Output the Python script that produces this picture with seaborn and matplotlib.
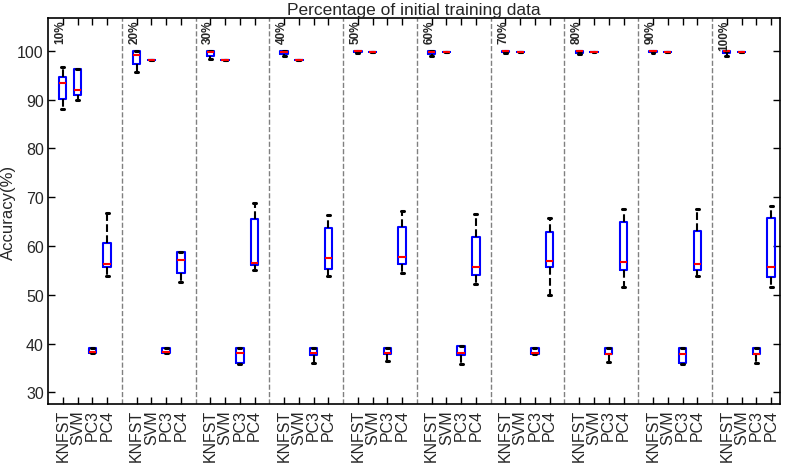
import pandas as pd
import matplotlib
matplotlib.use("Agg")
import matplotlib.pyplot as plt
import seaborn as sns

# five-number summaries: [min, q1, median, q3, max]
groups = ["10%", "20%", "30%", "40%", "50%", "60%", "70%", "80%", "90%", "100%"]
methods = ["KNFST", "SVM", "PC3", "PC4"]

knfst = [
    [88.0, 90.1, 93.3, 94.7, 96.6],
    [95.7, 97.3, 99.2, 99.9, 100.0],
    [98.3, 98.85, 99.8, 100.0, 100.0],
    [98.9, 99.4, 99.7, 100.0, 100.0],
    [99.6, 99.8, 99.9, 100.0, 100.0],
    [99.0, 99.3, 99.7, 100.0, 100.0],
    [99.5, 99.7, 99.9, 100.0, 100.0],
    [99.4, 99.6, 99.9, 100.0, 100.0],
    [99.6, 99.7, 99.9, 100.0, 100.0],
    [99.0, 99.5, 99.9, 100.0, 100.0],
]
svm = [
    [89.9, 90.9, 92.0, 96.25, 96.25],
    [98.0, 98.0, 98.0, 98.0, 98.0],
    [98.0, 98.0, 98.0, 98.0, 98.0],
    [98.0, 98.0, 98.0, 98.0, 98.0],
    [99.8, 99.8, 99.8, 99.8, 99.8],
    [99.8, 99.8, 99.8, 99.8, 99.8],
    [99.8, 99.8, 99.8, 99.8, 99.8],
    [99.8, 99.8, 99.8, 99.8, 99.8],
    [99.8, 99.8, 99.8, 99.8, 99.8],
    [99.8, 99.8, 99.8, 99.8, 99.8],
]
pc3 = [
    [38.0, 38.0, 38.2, 39.1, 39.1],
    [38.0, 38.0, 38.2, 39.1, 39.1],
    [35.8, 36.0, 38.05, 39.05, 39.05],
    [36.1, 37.7, 38.05, 39.05, 39.05],
    [36.5, 37.8, 38.05, 39.05, 39.05],
    [35.75, 37.7, 38.05, 39.4, 39.4],
    [37.8, 37.8, 38.05, 39.05, 39.05],
    [36.3, 37.8, 37.95, 39.05, 39.05],
    [35.75, 36.0, 37.8, 39.05, 39.05],
    [36.1, 37.8, 37.95, 39.05, 39.05],
]
pc4 = [
    [53.8, 55.6, 56.3, 60.6, 66.7],
    [52.7, 54.4, 57.2, 58.7, 58.7],
    [55.1, 56.1, 56.5, 65.6, 68.7],
    [53.8, 55.3, 57.5, 63.7, 66.4],
    [54.4, 56.3, 57.8, 63.8, 67.1],
    [52.2, 54.1, 55.6, 61.8, 66.5],
    [50.0, 55.7, 57.0, 62.8, 65.8],
    [51.5, 55.1, 56.8, 65.0, 67.5],
    [53.8, 55.1, 56.4, 63.0, 67.6],
    [51.5, 53.6, 55.6, 65.8, 68.1],
]

sns.set_style("white")
plt.rcParams["font.family"] = ["Liberation Sans", "DejaVu Sans"]

# long table: one row per value, x = slot position (4 boxes + 1 gap per group)
rows = []
for m, series in enumerate([knfst, svm, pc3, pc4]):
    for g, vals in enumerate(series):
        for v in vals:
            rows.append({"pos": g * 5 + m + 1, "acc": v})
df = pd.DataFrame(rows)

fig, ax = plt.subplots(figsize=(7.87, 4.64), dpi=100)
fig.subplots_adjust(left=0.061, right=0.991, bottom=0.127, top=0.959)

sns.boxplot(
    data=df, x="pos", y="acc", native_scale=True, fill=False, width=0.5,
    whis=(0, 100), color="blue", ax=ax,
    boxprops=dict(color="blue", linewidth=1.5),
    medianprops=dict(color="red", linewidth=1.5),
    whiskerprops=dict(color="black", linestyle="--", linewidth=1.5),
    capprops=dict(color="black", linewidth=2.2),
    capwidths=0.2,
)

# group dividers
for g in range(1, len(groups)):
    ax.axvline(g * 5, color="#808080", linestyle="--", linewidth=1, zorder=0)

for g, lab in enumerate(groups):
    ax.text(g * 5 + 0.85, 106.4, lab, rotation=90, ha="center", va="top",
            fontsize=8.5, fontweight="bold")

positions = [g * 5 + m + 1 for g in range(len(groups)) for m in range(len(methods))]
ax.set_xticks(positions)
ax.set_xticklabels(methods * len(groups), rotation=90, fontsize=11.5)
ax.set_xlim(0, 49.6)
ax.set_ylim(27.6, 106.7)
ax.set_yticks(range(30, 101, 10))
ax.tick_params(axis="y", labelsize=11.5, pad=3)
ax.tick_params(direction="in", bottom=True, left=True, top=True, right=True,
               length=5, width=1, color="black")
for s in ax.spines.values():
    s.set_color("black")
    s.set_linewidth(1.2)

ax.set_xlabel("")
ax.set_ylabel("Accuracy(%)", fontsize=12, labelpad=1)
ax.set_title("Percentage of initial training data", fontsize=12.5, pad=3)

plt.savefig("out.png", dpi=100)
